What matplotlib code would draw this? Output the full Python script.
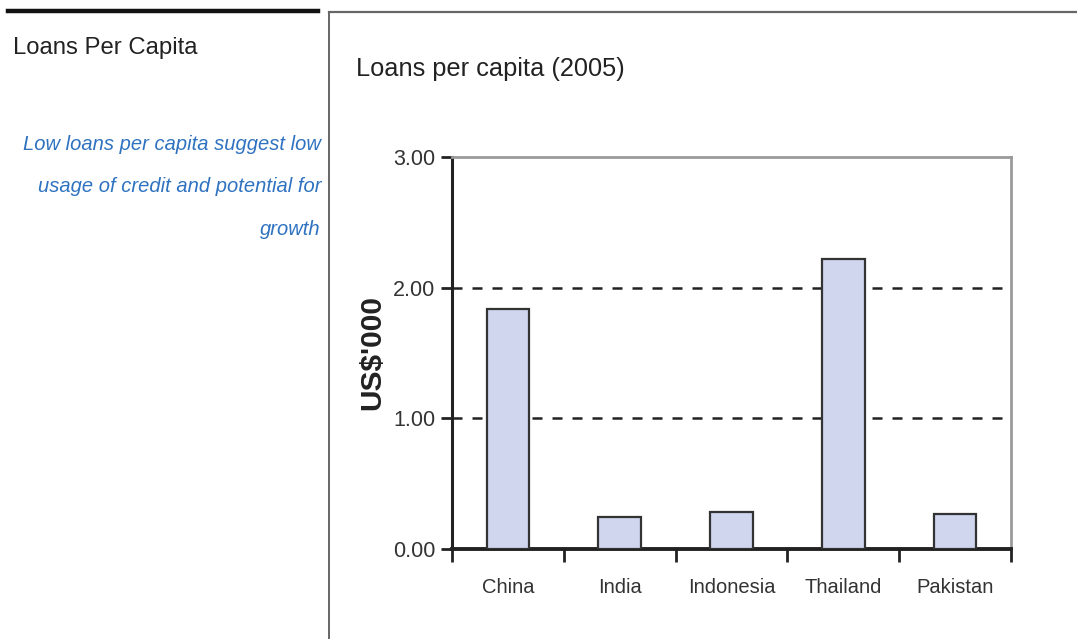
import matplotlib
matplotlib.use("Agg")
import matplotlib.pyplot as plt
from matplotlib.lines import Line2D

countries = ["China", "India", "Indonesia", "Thailand", "Pakistan"]
loans_per_capita = [1.84, 0.245, 0.28, 2.22, 0.27]
y_ticks = [0.0, 1.0, 2.0, 3.0]

plt.rcParams["font.family"] = ["Liberation Sans", "DejaVu Sans"]

fig = plt.figure(figsize=(10.77, 6.39), dpi=100)
W, H = 1077, 639

def fx(px):
    return px / W

def fy(py):
    return 1 - py / H

# Panel frames
fig.add_artist(Line2D([fx(8), fx(318)], [fy(11), fy(11)], color="#111111", lw=3.2))
fig.add_artist(Line2D([fx(329), fx(1077)], [fy(12), fy(12)], color="#666666", lw=1.6))
fig.add_artist(Line2D([fx(329), fx(329)], [fy(12), fy(639)], color="#666666", lw=1.4))

# Side panel text
fig.text(fx(13), fy(48), "Loans Per Capita", fontsize=17.2, color="#222222",
         ha="left", va="center")
for i, line in enumerate(["Low loans per capita suggest low",
                          "usage of credit and potential for",
                          "growth"]):
    fig.text(fx(321), fy(144 + 42.5 * i), line, fontsize=14.5, color="#2e72c0",
             style="italic", ha="right", va="center")

fig.text(fx(356), fy(69), "Loans per capita (2005)", fontsize=18.3,
         color="#222222", ha="left", va="center")

ax = fig.add_axes([fx(452), fy(549), fx(1011) - fx(452), fy(157) - fy(549)])
x = list(range(len(countries)))
ax.bar(x, loans_per_capita, width=0.38, color="#cfd6ee", edgecolor="#333333",
       linewidth=1.6, zorder=3)

ax.set_xlim(-0.5, len(countries) - 0.5)
ax.set_ylim(0, 3.0)
ax.set_yticks(y_ticks)
ax.set_yticklabels([f"{v:.2f}" for v in y_ticks])
for v in y_ticks[1:-1]:
    ax.axhline(v, color="#222222", lw=1.8, ls=(0, (4, 4)), zorder=1)

ax.set_xticks(x)
ax.set_xticklabels(countries)
ax.tick_params(axis="x", length=0, pad=21, labelsize=14.5, labelcolor="#333333")
ax.set_xticks([i - 0.5 for i in range(len(countries) + 1)], minor=True)
ax.tick_params(axis="x", which="minor", length=9, width=2, color="#222222",
               direction="out")
ax.tick_params(axis="y", length=8, width=2, color="#222222", direction="out",
               labelsize=15.5, labelcolor="#333333", pad=4)

ax.spines["left"].set_color("#222222")
ax.spines["left"].set_linewidth(2.2)
ax.spines["bottom"].set_color("#222222")
ax.spines["bottom"].set_linewidth(2.8)
ax.spines["top"].set_color("#9a9a9a")
ax.spines["top"].set_linewidth(2.0)
ax.spines["right"].set_color("#9a9a9a")
ax.spines["right"].set_linewidth(2.0)

ax.set_ylabel("US$'000", fontsize=21.5, fontweight="bold", color="#222222")
ax.yaxis.set_label_coords((386 - 452) / (1011 - 452), (549 - 352) / (549 - 157))

fig.savefig("out.png", dpi=100)
